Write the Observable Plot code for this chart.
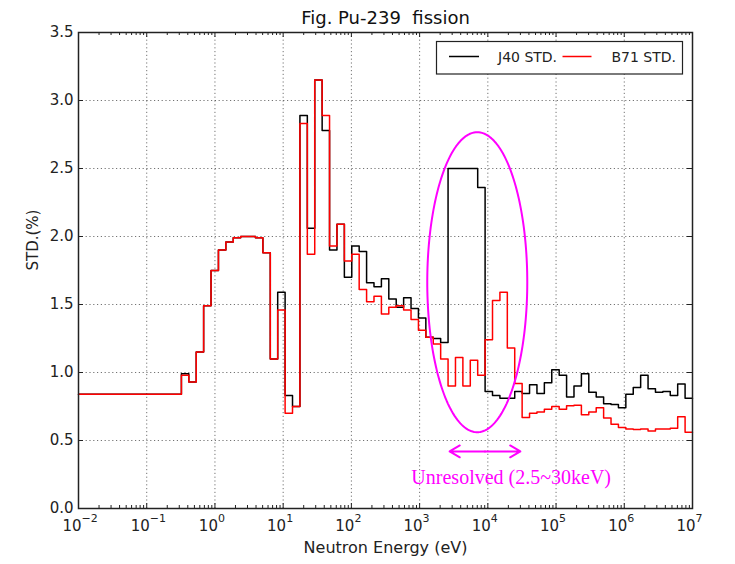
<!DOCTYPE html>
<html><head><meta charset="utf-8">
<script src="https://cdn.jsdelivr.net/npm/d3@7"></script>
<script src="https://cdn.jsdelivr.net/npm/@observablehq/plot@0.6"></script>
<style>
body{margin:0;background:#fff;}
svg text{white-space:pre;}
</style>
</head><body><div id="chart"></div>
<script>
// Group boundaries (eV), ascending; first value is the left edge of the visible axis
const groupBounds = [0.01, 0.322419, 0.413994, 0.531580, 0.682560, 0.876425, 1.12535, 1.44498, 1.85539, 2.38237, 3.05902,
  3.92786, 5.04348, 6.47595, 8.31529, 10.6770, 13.7096, 17.6035, 22.6033, 29.0232, 37.2665,
  47.8512, 61.4421, 78.8932, 101.301, 130.073, 167.017, 214.454, 275.365, 353.575, 453.999,
  582.947, 748.518, 961.117, 1234.10, 1584.61, 2034.68, 2612.59, 3354.63, 4307.43, 5530.84,
  7101.74, 9118.82, 11708.8, 15034.4, 19304.5, 24787.5, 31827.8, 40867.7, 52475.2, 67379.5,
  86516.9, 111090, 142642, 183156, 235177, 301974, 387742, 497871, 639279, 820850,
  1053990, 1353350, 1737740, 2231300, 2865050, 3678790, 4723670, 6065310, 7788010, 10000000];

// STD (%) per group, ascending energy
const j40Std = [0.84, 0.99, 0.93, 1.15, 1.49, 1.75, 1.90, 1.96, 1.99, 2.00, 2.00,
  1.99, 1.88, 1.10, 1.59, 0.83, 0.75, 2.89, 2.06, 3.15, 2.78,
  1.90, 2.09, 1.70, 1.93, 1.89, 1.66, 1.63, 1.69, 1.54, 1.48,
  1.55, 1.47, 1.40, 1.26, 1.25, 1.22, 2.50, 2.50, 2.50, 2.50,
  2.36, 0.86, 0.83, 0.81, 0.81, 0.86, 0.845, 0.91, 0.845, 0.925,
  1.02, 0.98, 0.82, 0.90, 0.99, 0.855, 0.82, 0.77, 0.765, 0.74,
  0.84, 0.89, 0.98, 0.88, 0.855, 0.86, 0.83, 0.915, 0.81];
const b71Std = [0.84, 0.98, 0.93, 1.15, 1.49, 1.75, 1.90, 1.96, 1.99, 2.00, 2.00,
  1.99, 1.88, 1.10, 1.46, 0.70, 0.75, 2.83, 1.87, 3.15, 2.89,
  1.93, 2.09, 1.82, 1.87, 1.61, 1.52, 1.56, 1.43, 1.48, 1.49,
  1.46, 1.39, 1.31, 1.26, 1.21, 1.10, 0.90, 1.11, 0.90, 1.09,
  0.98, 1.24, 1.53, 1.59, 1.18, 0.92, 0.67, 0.70, 0.71, 0.73,
  0.75, 0.73, 0.755, 0.76, 0.69, 0.71, 0.74, 0.665, 0.62, 0.595,
  0.585, 0.58, 0.585, 0.57, 0.585, 0.585, 0.59, 0.675, 0.56];

const seriesNames = ["J40 STD.", "B71 STD."];
const seriesColors = ["#000000", "#ff0000"];
const xTickExponents = [-2, -1, 0, 1, 2, 3, 4, 5, 6, 7];
const yTicks = [0, 0.5, 1.0, 1.5, 2.0, 2.5, 3.0, 3.5];
const yTickLabels = ["0.0", "0.5", "1.0", "1.5", "2.0", "2.5", "3.0", "3.5"];
const titleText = "Fig. Pu-239  fission";
const xLabel = "Neutron Energy (eV)";
const yLabel = "STD.(%)";
const noteText = "Unresolved (2.5~30keV)";
const noteRange = [2750, 30000];     // arrow extent (eV)
const notePos = {x: 22000, y: 0.23}; // text anchor
const arrowY = 0.42;
const ellipse = {centerE: 7000, halfDecades: 0.733, centerY: 1.664, halfY: 1.103};

function stepPoints(vals) {
  const pts = vals.map((v, i) => ({x: groupBounds[i], y: v}));
  pts.push({x: groupBounds[groupBounds.length - 1], y: vals[vals.length - 1]});
  return pts;
}

const W = 735, H = 564, mL = 78, mR = 43, mT = 32, mB = 56;
const frameW = W - mL - mR, frameH = H - mT - mB;
const majorX = xTickExponents.map(e => Math.pow(10, e));
const minorX = [];
for (let e = -2; e < 7; e++) for (let m = 2; m <= 9; m++) minorX.push(m * Math.pow(10, e));
const ellipsePts = d3.range(0, 201).map(i => {
  const t = i / 200 * 2 * Math.PI;
  return {x: ellipse.centerE * Math.pow(10, ellipse.halfDecades * Math.cos(t)),
          y: ellipse.centerY + ellipse.halfY * Math.sin(t)};
});
const supMap = {"-": "\u2212"};
const expStr = e => String(e).split("").map(c => supMap[c] || c).join("");
const magenta = "#ff00ff";
const arrowMid = Math.sqrt(noteRange[0] * noteRange[1]);
const gridStyle = {stroke: "#000", strokeOpacity: 0.55, strokeWidth: 1, strokeDasharray: "1.2,2.6"};

const chart = Plot.plot({
  width: W, height: H,
  marginLeft: mL, marginRight: mR, marginTop: mT, marginBottom: mB,
  x: {type: "log", domain: [0.01, 1e7], axis: null},
  y: {domain: [0, 3.5], axis: null},
  style: {fontFamily: "DejaVu Sans", background: "#fff", color: "#222"},
  marks: [
    Plot.ruleX(majorX.slice(1, -1), gridStyle),
    Plot.ruleY(yTicks.slice(1, -1), gridStyle),
    // ticks (inside frame)
    Plot.ruleX(majorX, {stroke: "#222", insetTop: frameH - 5}),
    Plot.ruleX(majorX, {stroke: "#222", insetBottom: frameH - 5}),
    Plot.ruleX(minorX, {stroke: "#222", insetTop: frameH - 3}),
    Plot.ruleX(minorX, {stroke: "#222", insetBottom: frameH - 3}),
    Plot.ruleY(yTicks, {stroke: "#222", insetRight: frameW - 5}),
    Plot.ruleY(yTicks, {stroke: "#222", insetLeft: frameW - 5}),
    // data
    Plot.line(stepPoints(j40Std), {x: "x", y: "y", curve: "step-after", stroke: seriesColors[0], strokeWidth: 1.5}),
    Plot.line(stepPoints(b71Std), {x: "x", y: "y", curve: "step-after", stroke: seriesColors[1], strokeWidth: 1.5}),
    // annotations
    Plot.line(ellipsePts, {x: "x", y: "y", stroke: magenta, strokeWidth: 2}),
    Plot.arrow([{x1: arrowMid, x2: noteRange[0]}, {x1: arrowMid, x2: noteRange[1]}],
      {x1: "x1", x2: "x2", y1: arrowY, y2: arrowY, stroke: magenta, strokeWidth: 2, headLength: 9}),
    Plot.text([noteText], {x: notePos.x, y: notePos.y, fill: magenta, fontFamily: "Liberation Serif", fontSize: 20}),
    // tick labels
    Plot.text(yTicks, {y: d => d, text: (d, i) => yTickLabels[i], frameAnchor: "left", dx: -5, textAnchor: "end", lineAnchor: "middle", fontSize: 15, fill: "#222"}),
    Plot.text(majorX, {x: d => d, text: () => "10", frameAnchor: "bottom", dy: 18, dx: 3, textAnchor: "end", lineAnchor: "middle", fontSize: 15, fill: "#222"}),
    Plot.text(xTickExponents, {x: d => Math.pow(10, d), text: d => expStr(d), frameAnchor: "bottom", dy: 10, dx: 3, textAnchor: "start", lineAnchor: "middle", fontSize: 11, fill: "#222"}),
    // titles
    Plot.text([titleText], {frameAnchor: "top", dy: -14, lineAnchor: "middle", fontSize: 18, fill: "#111"}),
    Plot.text([xLabel], {frameAnchor: "bottom", dy: 39, lineAnchor: "middle", fontSize: 16, fill: "#222"}),
    Plot.text([yLabel], {frameAnchor: "left", dx: -45, rotate: -90, lineAnchor: "middle", fontSize: 15, fill: "#222"}),
    Plot.frame({stroke: "#222", strokeWidth: 1.5})
  ]
});

// legend (drawn in the plot's SVG, in frame pixel space)
const svg = d3.select(chart);
const lg = svg.append("g").attr("font-family", "DejaVu Sans").attr("font-size", 14).attr("fill", "#222")
  .attr("text-anchor", "start");
lg.append("rect").attr("x", 436.5).attr("y", 41.5).attr("width", 246).attr("height", 32.5)
  .attr("fill", "#fff").attr("stroke", "#222").attr("stroke-width", 1.2);
const legendItems = [
  {line: [449, 479], textX: 498},
  {line: [562.5, 591.5], textX: 611.5}
];
legendItems.forEach((it, i) => {
  lg.append("line").attr("x1", it.line[0]).attr("x2", it.line[1]).attr("y1", 56.5).attr("y2", 56.5)
    .attr("stroke", seriesColors[i]).attr("stroke-width", 1.5);
  lg.append("text").attr("x", it.textX).attr("y", 57).attr("dy", "0.35em")
    .attr("text-anchor", "start").text(seriesNames[i]);
});

document.getElementById("chart").appendChild(chart);
</script>
</body></html>
